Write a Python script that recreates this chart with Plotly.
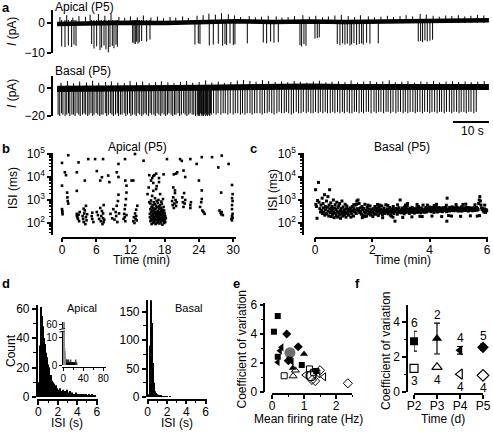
import plotly.graph_objects as go

W, H = 493, 432
FONT = "Liberation Sans, Arial, Helvetica, sans-serif"

# ======================= DATA =======================
# (a) apical trace: spike times (s) and peak currents (pA)
apical_spike_t = [1.30, 2.22, 3.15, 4.07, 4.72, 5.28,
                  9.63, 10.28, 11.02, 11.94, 12.41, 13.06, 13.61, 14.26, 14.72, 15.37, 15.83, 16.39, 16.76,
                  21.02, 21.39, 21.76, 22.13, 22.50, 22.87, 23.52, 24.91, 25.83,
                  38.33, 39.26, 39.72,
                  42.31, 43.43, 44.81, 46.02, 46.67, 47.13, 48.06, 48.98, 49.44,
                  52.87,
                  57.31, 58.24, 59.35, 60.28, 61.48,
                  67.50, 67.96, 68.61, 69.17, 71.67, 72.31, 72.87,
                  77.87, 78.61, 79.35, 80.00, 80.65, 81.39, 81.85, 82.50, 83.24, 83.98, 84.63, 85.09, 86.02, 86.94,
                  89.26,
                  100.37, 101.02, 101.57, 102.22, 102.87, 103.61, 104.35]
apical_spike_amp = [-7.8, -8.0, -7.5, -8.0, -7.2, -7.6,
                    -7.0, -8.5, -7.8, -9.0, -8.2, -7.5, -8.8, -9.8, -8.0, -7.6, -8.4, -7.2, -7.9,
                    -6.5, -6.8, -7.0, -6.2, -6.9, -6.4, -6.0, -6.2, -5.5,
                    -7.2, -6.8, -7.0,
                    -7.5, -7.2, -6.9, -7.6, -7.0, -7.3, -6.8, -7.4, -7.1,
                    -6.8,
                    -6.5, -6.8, -6.2, -6.6, -6.4,
                    -7.4, -7.8, -7.0, -7.6, -5.2, -5.0, -4.8,
                    -7.0, -7.4, -6.8, -7.2, -6.9, -7.5, -7.1, -6.7, -7.3, -7.0, -6.8, -7.2, -6.6, -6.9,
                    -6.8,
                    -6.2, -6.0, -6.4, -5.8, -6.1, -5.9, -5.6]
apical_base_t = [0, 10, 20, 30, 40, 50, 60, 70, 80, 90, 100, 110, 120]
apical_base_v = [-0.3, 0.0, 0.1, 0.0, 0.3, 0.6, 0.3, 0.5, 0.3, 0.4, 0.6, 0.8, 0.9]
# small noise excursions on the apical baseline (s, pA)
apical_noise_t = [0.8, 2.7, 4.4, 6.1, 7.9, 9.2, 11.5, 13.3, 15.0, 17.2, 18.8, 20.4, 22.3, 24.0, 26.1, 27.9, 29.6,
                  31.4, 33.0, 34.9, 36.5, 38.9, 40.6, 42.2, 44.0, 45.7, 47.6, 49.3, 51.0, 53.4, 55.1, 56.8, 58.7,
                  60.9, 62.5, 64.2, 66.0, 68.3, 70.1, 71.9, 73.8, 75.4, 77.2, 79.0, 80.9, 82.7, 84.3, 86.5, 88.2,
                  90.0, 91.8, 93.5, 95.3, 97.0, 98.8, 100.9, 102.6, 104.5, 106.2, 108.0, 109.7, 111.5, 113.3, 115.0,
                  116.8, 118.6]
apical_noise_amp = [2.0, 2.6, 1.8, 2.3, 2.1, 2.8, 3.0, 2.4, 3.2, 2.0, 1.7, 2.2, 1.9, 2.5, 1.8, 2.1, 1.6,
                    2.0, 1.8, 2.2, 1.7, 2.4, 2.6, 3.1, 2.8, 3.3, 2.9, 2.5, 2.0, 2.3, 1.9, 2.1, 2.4,
                    2.2, 1.8, 2.0, 2.3, 2.6, 2.1, 2.4, 1.9, 2.2, 2.5, 2.7, 2.3, 2.0, 2.6, 2.2, 1.9,
                    2.1, 2.4, 2.0, 2.3, 2.6, 2.2, 3.0, 2.8, 2.4, 2.1, 2.5, 2.3, 2.6, 2.2, 2.4,
                    2.7, 2.5]

# (a) basal trace: inter-spike intervals (s) and peak currents (pA)
basal_first_spike_s = 0.3
basal_isi_s = [0.45, 0.52, 0.38, 0.61, 0.44, 0.50, 0.36, 0.58, 0.47, 0.41, 0.55, 0.49, 0.39, 0.62, 0.46, 0.43, 0.57, 0.40, 0.51, 0.48,
               0.37, 0.59, 0.45, 0.53, 0.42, 0.50, 0.64, 0.38, 0.47, 0.55, 0.44, 0.41, 0.58, 0.49, 0.36, 0.52, 0.46, 0.60, 0.43, 0.48,
               0.54, 0.40, 0.47, 0.63, 0.39, 0.51, 0.45, 0.56, 0.42, 0.49, 0.37, 0.58, 0.46, 0.44, 0.61, 0.41, 0.50, 0.47, 0.53, 0.38,
               0.55, 0.45, 0.48, 0.42, 0.59, 0.46, 0.51, 0.40, 0.57, 0.44, 0.49, 0.62, 0.43, 0.47, 0.52, 0.39, 0.56, 0.45, 0.50, 0.48,
               0.25, 0.18, 0.22, 0.20, 0.27, 0.16, 0.23, 0.21, 0.19, 0.26, 0.17, 0.24, 0.22, 0.20, 0.28, 0.18, 0.23, 0.21,
               0.62, 0.70, 0.55, 0.78, 0.64, 0.58, 0.72, 0.66, 0.81, 0.60, 0.68, 0.74, 0.57, 0.69, 0.63, 0.76, 0.59, 0.71, 0.65, 0.83,
               0.61, 0.67, 0.73, 0.56, 0.70, 0.64, 0.79, 0.62, 0.68, 0.75, 0.58, 0.66, 0.72, 0.60, 0.77, 0.65, 0.69, 0.63, 0.80, 0.57,
               0.71, 0.64, 0.67, 0.74, 0.59, 0.70, 0.66, 0.62, 0.78, 0.68, 0.61, 0.73, 0.65, 0.69, 0.56, 0.76, 0.63, 0.71, 0.67, 0.60,
               0.72, 0.66, 0.58, 0.75, 0.64, 0.70, 0.82, 0.61, 0.68, 0.63, 0.74, 0.69, 0.57, 0.71, 0.65, 0.79, 0.62, 0.67, 0.73, 0.60,
               0.70, 0.64, 0.76, 0.66, 0.59, 0.72, 0.68, 0.63, 0.77, 0.65, 0.61, 0.74, 0.69, 0.67, 0.58, 0.71, 0.64, 0.80, 0.66, 0.62,
               0.73, 0.68, 0.60, 0.75, 0.65, 0.70, 0.63, 0.78, 0.67, 0.61]
basal_spike_amp = [-19, -20, -18, -19, -20, -19, -18, -20, -19, -19, -20, -18, -19, -20, -19, -18, -19, -20, -19, -18,
                   -20, -19, -18, -19, -20, -19, -19, -18, -20, -19, -18, -19, -20, -19, -18, -20, -19, -19, -18, -20,
                   -19, -18, -20, -19, -19, -20, -18, -19, -20, -19, -18, -19, -20, -18, -19, -19, -20, -18, -19, -20,
                   -18, -19, -20, -19, -18, -19, -20, -19, -19, -18, -20, -19, -18, -19, -20, -19, -18, -19, -19, -20,
                   -19, -20, -19, -20, -18, -19, -20, -19, -20, -19, -18, -20, -19, -20, -19, -19, -20, -18,
                   -19, -18, -19, -18, -19, -18, -18, -19, -18, -19, -18, -18, -19, -18, -19, -18, -18, -19, -18, -18,
                   -18, -19, -18, -18, -17, -18, -19, -18, -17, -18, -18, -17, -18, -19, -18, -17, -18, -18, -17, -18,
                   -17, -18, -18, -17, -18, -17, -18, -17, -18, -18, -17, -18, -17, -18, -17, -18, -17, -18, -18, -17,
                   -17, -18, -17, -18, -17, -17, -18, -17, -18, -17, -17, -18, -17, -17, -18, -17, -18, -17, -17, -18,
                   -17, -18, -17, -17, -18, -17, -17, -18, -17, -17, -18, -17, -17, -18, -17, -17, -18, -17, -17, -18,
                   -17, -17, -18, -17, -17, -18, -17, -17, -18, -17]
basal_base_t = [0, 10, 20, 30, 40, 50, 60, 70, 80, 90, 100, 110, 120]
basal_base_v = [-0.5, 0.0, 0.2, 0.2, 0.5, 0.8, 1.2, 1.4, 0.9, 0.7, 0.6, 0.8, 0.9]
basal_noise_t = [1.1, 2.9, 4.6, 6.3, 8.2, 9.9, 11.6, 13.5, 15.1, 16.9, 18.7, 20.3, 22.1, 23.8, 25.6, 27.4, 29.0,
                 30.8, 32.5, 34.3, 36.0, 37.7, 39.5, 41.3, 43.0, 44.8, 46.5, 48.3, 50.1, 51.8, 53.6, 55.3, 57.1,
                 58.8, 60.6, 62.4, 64.1, 65.9, 67.6, 69.4, 71.2, 72.9, 74.7, 76.4, 78.2, 80.0, 81.7, 83.5, 85.2,
                 87.0, 88.8, 90.5, 92.3, 94.0, 95.8, 97.5, 99.3, 101.1, 102.8, 104.6, 106.3, 108.1, 109.9, 111.6,
                 113.4, 115.1, 116.9, 118.7]
basal_noise_amp = [4.0, 5.2, 3.6, 4.8, 4.2, 5.5, 3.9, 4.6, 5.0, 4.1, 3.8, 5.3, 4.4, 4.9, 3.7, 4.5, 5.1,
                   4.3, 3.9, 4.7, 5.2, 4.0, 4.6, 5.8, 4.2, 4.9, 3.8, 4.5, 5.6, 6.0, 5.4, 4.8, 5.9,
                   5.2, 4.6, 5.0, 4.4, 5.3, 4.7, 4.1, 4.9, 5.5, 4.3, 4.8, 5.1, 4.5, 5.7, 4.2, 4.9,
                   5.3, 4.6, 5.0, 5.8, 4.4, 4.8, 5.2, 4.1, 5.0, 4.7, 5.4, 4.3, 4.9, 5.1, 4.6,
                   5.0, 4.4, 4.8, 5.2]
scale_bar_s = [110, 120]

# (b) apical ISI vs time: (time min, ISI ms)
b_points = [(0.0, 41000), (0.0, 4200), (0.0, 400), (0.05, 290), (0.1, 240), (0.05, 330),
            (0.5, 16000), (0.7, 12000), (0.9, 2100), (0.95, 1300), (1.0, 900), (1.1, 700), (1.1, 88000),
            (2.6, 250), (2.6, 200), (2.7, 180), (2.8, 150), (2.9, 230), (3.0, 120), (3.1, 300), (2.9, 43000), (2.6, 16000), (2.6, 2500),
            (3.6, 200), (3.7, 150), (3.8, 110), (3.9, 260), (4.0, 350), (4.1, 90), (4.2, 180), (4.3, 130), (4.4, 240),
            (4.0, 7000), (4.2, 560), (3.8, 420), (4.6, 60000),
            (5.2, 200), (5.3, 150), (5.3, 280), (5.5, 110), (5.8, 60000),
            (6.1, 300), (6.3, 220), (6.5, 150), (6.7, 450), (6.8, 120), (6.9, 200), (7.0, 330), (7.1, 90), (7.2, 260),
            (7.2, 160), (7.3, 110), (7.3, 600), (7.4, 140), (7.0, 9800), (6.7, 7000), (6.1, 18000), (7.2, 60000),
            (8.1, 11500), (8.3, 6000), (8.5, 250), (8.8, 160), (9.0, 400), (9.2, 140), (9.4, 300), (9.5, 200),
            (9.6, 560), (9.7, 110), (9.8, 900), (9.9, 1700), (10.0, 260), (9.9, 10000), (9.6, 16000), (9.9, 37000),
            (10.8, 150), (10.9, 250), (11.0, 180), (11.0, 400), (11.1, 120), (11.1, 600), (11.2, 1100), (11.3, 220),
            (11.3, 2100), (11.1, 7000), (11.3, 4200), (11.05, 60000),
            (12.5, 120), (12.6, 180), (12.7, 100), (12.8, 260), (12.9, 150), (13.0, 380), (13.0, 200), (13.1, 130),
            (13.2, 560), (12.2, 7000), (12.5, 7000), (12.8, 100000), (14.3, 51000),
            (15.0, 1800), (15.2, 3500), (15.3, 800), (15.3, 12000),
            (15.4, 180), (15.4, 250), (15.5, 120), (15.5, 400), (15.5, 700), (15.6, 150), (15.6, 300), (15.6, 950),
            (15.7, 90), (15.7, 210), (15.7, 500), (15.8, 130), (15.8, 350), (15.8, 1500), (15.9, 170), (15.9, 260),
            (15.9, 600), (16.0, 100), (16.0, 220), (16.0, 450), (16.0, 2500), (16.1, 140), (16.1, 320), (16.1, 800),
            (16.2, 110), (16.2, 190), (16.2, 380), (16.3, 160), (16.3, 280), (16.3, 650), (16.3, 1200), (16.4, 90),
            (16.4, 230), (16.4, 420), (16.5, 130), (16.5, 300), (16.5, 550), (16.5, 3000), (16.6, 180), (16.6, 260),
            (16.6, 900), (16.7, 100), (16.7, 210), (16.7, 480), (16.8, 150), (16.8, 340), (16.8, 750), (16.9, 120),
            (16.9, 240), (16.9, 1000), (17.0, 170), (17.0, 300), (17.0, 520), (17.1, 95), (17.1, 200), (17.1, 400),
            (17.2, 140), (17.2, 270), (17.2, 600), (17.2, 1800), (17.3, 110), (17.3, 230), (17.3, 450), (17.4, 160),
            (17.4, 320), (17.4, 850), (17.5, 130), (17.5, 250), (17.5, 700), (17.6, 85), (17.6, 190), (17.6, 380),
            (17.7, 150), (17.7, 290), (17.7, 1100), (17.8, 120), (17.8, 220), (17.8, 500), (17.9, 100), (17.9, 170),
            (17.9, 350), (18.0, 140), (18.0, 260), (18.1, 110), (18.1, 200), (18.2, 160),
            (16.0, 5500), (16.6, 4000), (15.6, 7000), (17.0, 6000), (16.2, 12000), (15.8, 9000),
            (16.0, 11000), (16.5, 14000), (17.0, 9000), (17.8, 13000), (18.4, 60000),
            (19.3, 900), (19.4, 600), (19.5, 1300), (19.6, 450), (19.7, 700), (19.8, 2000), (19.9, 1000), (20.0, 550),
            (20.1, 800), (19.5, 3500), (19.8, 2600), (19.6, 13000), (20.0, 14000), (20.2, 16000), (20.7, 60000),
            (21.1, 1300), (21.2, 800), (21.3, 500), (21.4, 2000), (21.5, 700), (21.6, 1000), (21.3, 19000), (21.6, 10000),
            (22.5, 600), (22.5, 450), (22.6, 800), (21.0, 50000), (22.5, 60000),
            (24.2, 500), (24.4, 800), (24.5, 1100), (24.6, 350), (24.5, 2600), (24.0, 7000), (24.8, 300), (25.0, 250),
            (23.6, 37000), (24.5, 73000), (26.3, 73000),
            (27.6, 350), (27.8, 280), (27.9, 240), (28.0, 300), (28.2, 220), (27.4, 26000), (27.9, 2100), (28.0, 85000),
            (29.7, 150), (29.8, 130), (29.8, 200), (29.9, 170), (29.9, 250), (29.8, 400), (29.8, 600), (29.9, 900),
            (29.8, 1200), (29.9, 1800), (29.8, 4500), (29.2, 37000)]

# (c) basal ISI vs time: (time min, ISI ms)
c_points = [(0.02, 2800), (0.03, 650), (0.05, 520), (0.07, 160), (0.09, 950), (0.12, 5800), (0.14, 800), (0.17, 420), (0.19, 300),
            (0.21, 600), (0.23, 350), (0.25, 1200), (0.26, 260), (0.28, 700), (0.29, 450), (0.31, 300), (0.33, 1700), (0.34, 220),
            (0.36, 520), (0.37, 380), (0.39, 250), (0.40, 900), (0.42, 250), (0.43, 480), (0.45, 1400), (0.46, 330), (0.48, 200),
            (0.49, 600), (0.51, 2800), (0.52, 420), (0.54, 280), (0.55, 750), (0.57, 190), (0.58, 350), (0.59, 520),
            (0.61, 240), (0.62, 400), (0.64, 1000), (0.65, 300), (0.67, 170), (0.68, 450), (0.70, 620), (0.71, 260), (0.73, 380),
            (0.74, 210), (0.76, 800), (0.77, 330), (0.79, 180), (0.80, 470), (0.82, 290), (0.83, 560), (0.85, 220), (0.86, 700),
            (0.88, 340), (0.89, 160), (0.91, 420), (0.92, 250), (0.94, 900), (0.95, 310), (0.97, 200), (0.98, 500),
            (1.00, 280), (1.02, 380), (1.03, 230), (1.05, 650), (1.06, 300), (1.08, 180), (1.10, 420), (1.11, 550), (1.13, 260),
            (1.15, 340), (1.17, 220), (1.19, 390), (1.22, 450), (1.24, 300), (1.26, 380), (1.28, 250), (1.30, 520), (1.32, 330),
            (1.34, 200), (1.36, 420), (1.38, 300), (1.40, 600), (1.42, 360), (1.44, 260), (1.46, 900), (1.48, 420), (1.50, 1000),
            (1.52, 350), (1.54, 700), (1.56, 280), (1.58, 450), (1.60, 320), (1.62, 240), (1.64, 520), (1.66, 380), (1.68, 210),
            (1.70, 430), (1.72, 300), (1.74, 650), (1.76, 270), (1.78, 360), (1.80, 200), (1.82, 480), (1.84, 330), (1.86, 250),
            (1.88, 400), (1.90, 300), (1.92, 550), (1.94, 220), (1.96, 380), (1.98, 290),
            (2.01, 310), (2.03, 420), (2.05, 260), (2.07, 380), (2.09, 520), (2.11, 240), (2.13, 330), (2.15, 450), (2.17, 290),
            (2.19, 360), (2.21, 210), (2.23, 480), (2.25, 340), (2.27, 270), (2.29, 400), (2.31, 310), (2.33, 550), (2.35, 230),
            (2.37, 370), (2.39, 300), (2.41, 440), (2.43, 260), (2.45, 350), (2.47, 620), (2.49, 290),
            (2.51, 330), (2.53, 410), (2.55, 250), (2.57, 380), (2.59, 300), (2.61, 470), (2.63, 220), (2.65, 360), (2.67, 290),
            (2.69, 400), (2.71, 330), (2.73, 520), (2.75, 260), (2.77, 380), (2.79, 120), (2.81, 310), (2.83, 430), (2.85, 350),
            (2.87, 240), (2.89, 390), (2.91, 300), (2.93, 460), (2.95, 330), (2.97, 1000), (2.99, 280),
            (3.01, 370), (3.03, 280), (3.05, 450), (3.07, 320), (3.09, 390), (3.11, 250), (3.13, 510), (3.15, 340), (3.17, 290),
            (3.19, 420), (3.21, 360), (3.23, 700), (3.25, 300), (3.27, 380), (3.29, 260), (3.31, 440), (3.33, 330), (3.35, 400),
            (3.37, 290), (3.39, 480), (3.41, 350), (3.43, 310), (3.45, 420), (3.47, 270), (3.49, 380),
            (3.51, 400), (3.53, 330), (3.55, 460), (3.57, 290), (3.59, 370), (3.61, 520), (3.63, 310), (3.65, 420), (3.67, 350),
            (3.69, 280), (3.71, 450), (3.73, 380), (3.75, 320), (3.77, 600), (3.79, 360), (3.81, 290), (3.83, 410), (3.85, 340),
            (3.87, 470), (3.89, 300), (3.91, 380), (3.93, 430), (3.95, 330), (3.97, 390), (3.99, 500),
            (4.01, 360), (4.03, 430), (4.05, 310), (4.07, 390), (4.09, 480), (4.11, 340), (4.13, 410), (4.15, 290), (4.17, 450),
            (4.19, 370), (4.21, 330), (4.23, 520), (4.25, 380), (4.27, 300), (4.29, 420), (4.31, 360), (4.33, 470), (4.35, 320),
            (4.37, 400), (4.39, 350), (4.41, 440), (4.43, 380), (4.45, 310), (4.47, 460), (4.49, 390),
            (4.51, 420), (4.53, 350), (4.55, 470), (4.57, 380), (4.59, 310), (4.60, 120), (4.61, 1200), (4.63, 400), (4.65, 360),
            (4.67, 450), (4.69, 330), (4.71, 480), (4.73, 390), (4.75, 420), (4.77, 350), (4.79, 500), (4.81, 370), (4.83, 430),
            (4.85, 340), (4.87, 460), (4.89, 380), (4.91, 410), (4.93, 360), (4.95, 490), (4.97, 400), (4.99, 330),
            (5.01, 380), (5.03, 450), (5.05, 340), (5.07, 420), (5.09, 370), (5.11, 500), (5.13, 330), (5.15, 410), (5.17, 460),
            (5.19, 360), (5.21, 430), (5.23, 390), (5.25, 350), (5.27, 480), (5.29, 410), (5.31, 370), (5.33, 440), (5.35, 330),
            (5.37, 470), (5.39, 400), (5.41, 360), (5.43, 430), (5.45, 380), (5.47, 450), (5.49, 340),
            (5.51, 410), (5.53, 370), (5.55, 460), (5.57, 350), (5.59, 430), (5.61, 390), (5.63, 480), (5.65, 360), (5.67, 420),
            (5.69, 380), (5.71, 700), (5.73, 1000), (5.75, 1400), (5.77, 900), (5.79, 600), (5.81, 450), (5.83, 380), (5.85, 420),
            (5.87, 350), (5.89, 300), (5.91, 410), (5.93, 360), (5.95, 290), (5.97, 380), (5.99, 340),
            # outer edges of the band
            (1.25, 180), (1.45, 650), (1.65, 170), (1.85, 600), (2.02, 190), (2.18, 640), (2.36, 170), (2.54, 580),
            (2.72, 180), (2.88, 620), (3.06, 175), (3.22, 560), (3.38, 185), (3.56, 640), (3.74, 190), (3.92, 600),
            (4.08, 200), (4.24, 650), (4.42, 190), (4.58, 590), (4.76, 200), (4.92, 630), (5.08, 195), (5.26, 660),
            (5.42, 205), (5.58, 620), (5.74, 210), (5.92, 600), (1.35, 620), (1.75, 190), (2.26, 600), (2.66, 200),
            (3.16, 610), (3.66, 195), (4.16, 580), (4.66, 210), (5.16, 640), (5.66, 200)]

# (d) ISI histograms, 0.1 s bins (bin centres in s)
hist_bin_s = [0.05, 0.15, 0.25, 0.35, 0.45, 0.55, 0.65, 0.75, 0.85, 0.95,
              1.05, 1.15, 1.25, 1.35, 1.45, 1.55, 1.65, 1.75, 1.85, 1.95,
              2.05, 2.15, 2.25, 2.35, 2.45, 2.55, 2.65, 2.75, 2.85, 2.95,
              3.05, 3.15, 3.25, 3.35, 3.45, 3.55, 3.65, 3.75, 3.85, 3.95,
              4.05, 4.15, 4.25, 4.35, 4.45, 4.55, 4.65, 4.75, 4.85, 4.95,
              5.05, 5.15, 5.25, 5.35, 5.45, 5.55, 5.65, 5.75, 5.85, 5.95]
apical_counts = [10, 35, 61, 55, 48, 40, 36, 30, 27, 22,
                 20, 17, 14, 15, 11, 10, 9, 7, 8, 6,
                 5, 4, 6, 3, 4, 5, 3, 4, 2, 5,
                 3, 2, 4, 2, 3, 1, 2, 1, 3, 2,
                 1, 2, 1, 2, 1, 2, 0, 2, 1, 2,
                 1, 0, 2, 1, 1, 2, 1, 0, 1, 0]
basal_counts = [0, 5, 90, 170, 130, 60, 25, 10, 7, 5,
                4, 3, 2, 2, 1, 1, 1, 1, 0, 1,
                1, 0, 0, 1, 0, 0, 0, 0, 0, 0,
                0, 0, 0, 0, 0, 0, 0, 0, 0, 0,
                0, 0, 0, 0, 0, 0, 0, 0, 0, 0,
                0, 0, 0, 0, 0, 0, 0, 0, 0, 0]
inset_tail_bin_s = [6.5, 7.5, 8.5, 9.5, 10.5, 11.5, 12.5, 13.5, 14.5, 15.5, 16.5, 17.5, 18.5, 19.5, 20.5, 21.5, 22.5, 23.5, 24.5, 26.5]
inset_tail_counts = [2, 1, 2, 1, 1, 2, 1, 1, 1, 2, 1, 1, 1, 1, 1, 1, 1, 1, 2, 1]
inset_ticks = [0, 10, 60]

# (e) coefficient of variation vs mean firing rate (Hz)
e_groups = {
    "P2 apical": ([0.18, 0.06, 0.18, 0.55, 0.93, 1.38], [5.24, 4.16, 2.43, 2.22, 1.86, 1.45], "square"),
    "P3 apical": ([1.00, 0.65], [2.62, 1.65], "triangle-up"),
    "P4 apical": ([0.30, 0.25, 0.18, 0.62], [3.08, 2.85, 2.05, 2.09], "triangle-left"),
    "P5 apical": ([0.46, 0.82, 0.51], [4.00, 3.12, 2.16], "diamond"),
    "P2 basal": ([0.38, 1.17, 1.30], [1.12, 1.59, 1.36], "square-open"),
    "P3 basal": ([0.66, 0.73], [1.10, 1.50], "triangle-up-open"),
    "P4 basal": ([1.04, 1.62, 1.44], [1.17, 1.05, 1.26], "triangle-left-open"),
    "P5 basal": ([1.25, 1.35, 1.50, 2.37], [0.83, 0.76, 1.50, 0.60], "diamond-open"),
}
e_mean_apical = (0.56, 2.71)
e_mean_basal = (1.22, 1.12)

# (f) CV by age
f_ages = ["P2", "P3", "P4", "P5"]
f_apical_mean = [2.90, 3.05, 2.38, 2.55]
f_apical_sem = [0.57, 0.88, 0.22, 0.18]
f_apical_n = [6, 2, 4, 5]
f_basal_mean = [1.35, 1.42, 1.02, 0.95]
f_basal_n = [3, 4, 4, 4]
f_symbols = ["square", "triangle-up", "triangle-left", "diamond"]

# ======================= FIGURE =======================
def X(px):
    return px / W


def Y(py):
    return 1 - py / H


layout = dict(width=W, height=H, autosize=False, margin=dict(l=0, r=0, t=0, b=0, pad=0, autoexpand=False),
              paper_bgcolor="white", plot_bgcolor="rgba(0,0,0,0)", showlegend=False,
              font=dict(family=FONT, size=12, color="black"))
AX = dict(showline=True, linecolor="black", linewidth=1.5, ticks="outside", ticklen=4, tickwidth=1.5,
          tickcolor="black", showgrid=False, zeroline=False, fixedrange=True, automargin=False,
          tickfont=dict(family=FONT, size=12, color="black"))


def axes(n, xdom, ydom, xpos, ypos, xr, yr, xkw=None, ykw=None):
    xa = dict(AX, domain=[X(xdom[0]), X(xdom[1])], anchor="free", position=Y(xpos), range=xr,
              ticklabelstandoff=-3)
    ya = dict(AX, domain=[Y(ydom[1]), Y(ydom[0])], anchor="free", position=X(ypos), range=yr)
    if xkw:
        xa.update(xkw)
    if ykw:
        ya.update(ykw)
    s = "" if n == 1 else str(n)
    layout["xaxis" + s] = xa
    layout["yaxis" + s] = ya
    return "x" + s, "y" + s


def minor(vals, ln=2.5):
    return dict(tickmode="array", tickvals=vals, ticks="outside", ticklen=ln, tickwidth=1, tickcolor="black")


fig = go.Figure()
ann = []
shapes = []


def text(px, py, s, size=12, angle=0, xa="center", ya="middle", bold=False, color="black"):
    ann.append(dict(x=X(px), y=Y(py), xref="paper", yref="paper", text=("<b>%s</b>" % s) if bold else s,
                    showarrow=False, textangle=angle, xanchor=xa, yanchor=ya,
                    font=dict(family=FONT, size=size, color=color)))


def spikes(times, amps, top):
    xs, ys = [], []
    for t, a in zip(times, amps):
        xs += [t, t, None]
        ys += [top, a, None]
    return xs, ys


# ---- a: apical trace
xa1, ya1 = axes(1, (52, 490), (10, 53), 60, 52, [-1.39, 120.3], [-10, 4.33],
                xkw=dict(visible=False), ykw=dict(tickvals=[0, -10]))
sx, sy = spikes(apical_spike_t, apical_spike_amp, 1.0)
fig.add_trace(go.Scatter(x=sx, y=sy, mode="lines", line=dict(color="black", width=1), xaxis=xa1, yaxis=ya1))
nx, ny = spikes(apical_noise_t, apical_noise_amp, 0.0)
fig.add_trace(go.Scatter(x=nx, y=ny, mode="lines", line=dict(color="black", width=1), xaxis=xa1, yaxis=ya1))
fig.add_trace(go.Scatter(x=apical_base_t, y=apical_base_v, mode="lines", line=dict(color="black", width=4.5),
                         xaxis=xa1, yaxis=ya1))

# ---- a: basal trace
xa2, ya2 = axes(2, (52, 490), (76, 116), 125, 52, [-1.39, 120.3], [-20, 8.9],
                xkw=dict(visible=False), ykw=dict(tickvals=[0, -20]))
bt = []
t = basal_first_spike_s
for d in basal_isi_s:
    bt.append(t)
    t += d
sx, sy = spikes(bt, basal_spike_amp, 2.0)
fig.add_trace(go.Scatter(x=sx, y=sy, mode="lines", line=dict(color="black", width=1), xaxis=xa2, yaxis=ya2))
nx, ny = spikes(basal_noise_t, basal_noise_amp, 0.0)
fig.add_trace(go.Scatter(x=nx, y=ny, mode="lines", line=dict(color="black", width=1), xaxis=xa2, yaxis=ya2))
fig.add_trace(go.Scatter(x=basal_base_t, y=basal_base_v, mode="lines", line=dict(color="black", width=6),
                         xaxis=xa2, yaxis=ya2))
shapes.append(dict(type="line", xref="x2", yref="paper", x0=scale_bar_s[0], x1=scale_bar_s[1],
                   y0=Y(122), y1=Y(122), line=dict(color="black", width=2)))
text(472, 131, "10 s")
text(53, 7, "Apical (P5)", xa="left")
text(53, 71, "Basal (P5)", xa="left")
text(12, 32, "<i>I</i> (pA)", angle=-90)
text(12, 94, "<i>I</i> (pA)", angle=-90)

# ---- b & c: ISI vs time
log_ticks = dict(type="log", tickmode="array", tickvals=[100, 1000, 10000, 100000],
                 ticktext=["10<sup>2</sup>", "10<sup>3</sup>", "10<sup>4</sup>", "10<sup>5</sup>"],
                 minor=minor([20, 30, 40, 50, 60, 70, 80, 90, 200, 300, 400, 500, 600, 700, 800, 900,
                              2000, 3000, 4000, 5000, 6000, 7000, 8000, 9000,
                              20000, 30000, 40000, 50000, 60000, 70000, 80000, 90000], 2))
xa3, ya3 = axes(3, (62, 236), (153, 235), 237.5, 52, [0, 30.5], [1.478, 5.043],
                xkw=dict(tickvals=[0, 6, 12, 18, 24, 30]), ykw=log_ticks)
fig.add_trace(go.Scatter(x=[p[0] for p in b_points], y=[p[1] for p in b_points], mode="markers",
                         marker=dict(symbol="square", size=2.6, color="black", line=dict(width=0)),
                         cliponaxis=False, xaxis=xa3, yaxis=ya3))
xa4, ya4 = axes(4, (315, 488), (153, 235), 237.5, 303, [0, 6.035], [1.478, 5.043],
                xkw=dict(tickvals=[0, 2, 4, 6]), ykw=log_ticks)
fig.add_trace(go.Scatter(x=[p[0] for p in c_points], y=[p[1] for p in c_points], mode="markers",
                         marker=dict(symbol="square", size=3, color="black", line=dict(width=0)),
                         cliponaxis=False, xaxis=xa4, yaxis=ya4))
text(137, 147, "Apical (P5)")
text(402, 147, "Basal (P5)")
text(13, 188, "ISI (ms)", angle=-90)
text(273, 190, "ISI (ms)", angle=-90)
text(141, 260, "Time (min)")
text(402, 260, "Time (min)")

# ---- d: histograms
xa5, ya5 = axes(5, (37, 97.5), (305, 397), 400, 36.7, [-0.134, 6.08], [0, 62.4],
                xkw=dict(tickvals=[0, 2, 4, 6], minor=minor([1, 3, 5])),
                ykw=dict(tickvals=[0, 20, 40, 60], minor=minor([10, 30, 50])))
fig.add_trace(go.Bar(x=hist_bin_s, y=apical_counts, width=0.1, marker=dict(color="black", line=dict(width=0)),
                     xaxis=xa5, yaxis=ya5))
xa6, ya6 = axes(6, (62.3, 106), (322, 365), 366.5, 62.3, [-2, 85.4], [0, 15.36],
                xkw=dict(tickvals=[0, 40, 80], minor=minor([20, 60], 2), ticklen=3, tickwidth=1, linewidth=1,
                         ticklabelstandoff=-1, tickfont=dict(family=FONT, size=10, color="black")),
                ykw=dict(tickvals=[0, 10, 14.6], ticktext=[str(v) for v in inset_ticks], ticklen=3, tickwidth=1,
                         linewidth=1, tickfont=dict(family=FONT, size=10, color="black")))
fig.add_trace(go.Bar(x=hist_bin_s, y=apical_counts, width=0.1, marker=dict(color="#8c8c8c", line=dict(width=0)),
                     xaxis=xa6, yaxis=ya6))
fig.add_trace(go.Bar(x=inset_tail_bin_s, y=inset_tail_counts, width=1.0, marker=dict(color="black", line=dict(width=0)),
                     xaxis=xa6, yaxis=ya6))
shapes.append(dict(type="rect", xref="paper", yref="paper", x0=X(59.5), x1=X(65), y0=Y(332), y1=Y(328.5),
                   fillcolor="white", line=dict(width=0)))
shapes.append(dict(type="line", xref="paper", yref="paper", x0=X(59.5), x1=X(65), y0=Y(332), y1=Y(331),
                   line=dict(color="black", width=1)))
shapes.append(dict(type="line", xref="paper", yref="paper", x0=X(59.5), x1=X(65), y0=Y(329.5), y1=Y(328.5),
                   line=dict(color="black", width=1)))
xa7, ya7 = axes(7, (147, 207), (300, 397), 399.7, 146.7, [-0.073, 6.156], [0, 170.6],
                xkw=dict(tickvals=[0, 2, 4, 6], minor=minor([1, 3, 5])),
                ykw=dict(tickvals=[0, 50, 100, 150], minor=minor([25, 75, 125])))
fig.add_trace(go.Bar(x=hist_bin_s, y=basal_counts, width=0.1, marker=dict(color="black", line=dict(width=0)),
                     xaxis=xa7, yaxis=ya7))
text(82, 308, "Apical", size=11)
text(189, 308, "Basal", size=11)
text(11, 351, "Count", angle=-90)
text(67, 423, "ISI (s)")
text(177, 423, "ISI (s)")

# ---- e: CV vs firing rate
xa8, ya8 = axes(8, (272, 352), (303, 392), 394, 264.3, [0, 2.5], [0, 6.14],
                xkw=dict(tickvals=[0, 1, 2], minor=minor([0.5, 1.5, 2.5])),
                ykw=dict(tickvals=[0, 2, 4, 6], minor=minor([1, 3, 5])))
fig.add_trace(go.Scatter(x=[e_mean_apical[0]], y=[e_mean_apical[1]], mode="markers",
                         marker=dict(symbol="circle", size=11, color="#6e6e6e", line=dict(width=0)),
                         cliponaxis=False, xaxis=xa8, yaxis=ya8))
fig.add_trace(go.Scatter(x=[e_mean_basal[0]], y=[e_mean_basal[1]], mode="markers",
                         marker=dict(symbol="circle-open", size=10, color="black", line=dict(width=1.2)),
                         cliponaxis=False, xaxis=xa8, yaxis=ya8))
for name, (gx, gy, sym) in e_groups.items():
    filled = not sym.endswith("open")
    fig.add_trace(go.Scatter(x=gx, y=gy, mode="markers", name=name,
                             marker=dict(symbol=sym, size=6 if "square" in sym else 7, color="black",
                                         line=dict(width=1 if not filled else 0, color="black")),
                             cliponaxis=False, xaxis=xa8, yaxis=ya8))
text(241.5, 349, "Coefficient of variation", angle=-90)
text(308, 419, "Mean firing rate (Hz)")

# ---- f: CV by age
xa9, ya9 = axes(9, (414, 483), (305, 392), 394, 407, [0, 3], [0, 4.97],
                xkw=dict(tickvals=[0, 1, 2, 3], ticktext=f_ages),
                ykw=dict(tickvals=[0, 2, 4], minor=minor([1, 3])))
for i, sym in enumerate(f_symbols):
    fig.add_trace(go.Scatter(x=[i], y=[f_apical_mean[i]], mode="markers",
                             error_y=dict(type="data", array=[f_apical_sem[i]], color="black", thickness=1.2, width=3),
                             marker=dict(symbol=sym, size=8 if sym == "square" else 9, color="black",
                                         line=dict(width=0)),
                             cliponaxis=False, xaxis=xa9, yaxis=ya9))
    fig.add_trace(go.Scatter(x=[i], y=[f_basal_mean[i]], mode="markers",
                             marker=dict(symbol=sym + "-open", size=8 if sym == "square" else 9, color="black",
                                         line=dict(width=1.2, color="black")),
                             cliponaxis=False, xaxis=xa9, yaxis=ya9))
    ann.append(dict(x=i, y=f_apical_mean[i] + f_apical_sem[i], xref=xa9, yref=ya9, text=str(f_apical_n[i]),
                    showarrow=False, xanchor="center", yanchor="bottom", yshift=-1,
                    font=dict(family=FONT, size=12, color="black")))
    ann.append(dict(x=i, y=f_basal_mean[i], xref=xa9, yref=ya9, text=str(f_basal_n[i]),
                    showarrow=False, xanchor="center", yanchor="top", yshift=-4,
                    font=dict(family=FONT, size=12, color="black")))
text(386, 351, "Coefficient of variation", angle=-90)
text(443, 419, "Time (d)")

# ---- panel letters
for lab, px, py in [("a", 6, 7), ("b", 6, 148), ("c", 254, 148), ("d", 6, 283), ("e", 236, 283), ("f", 357, 283)]:
    text(px, py, lab, size=13, bold=True)

layout["annotations"] = ann
layout["shapes"] = shapes
fig.update_layout(**layout)
fig.write_html("out.html", config={"responsive": False},
               post_script="document.body.style.margin='0';document.body.style.padding='0';"
                           "document.documentElement.style.overflow='hidden';")
